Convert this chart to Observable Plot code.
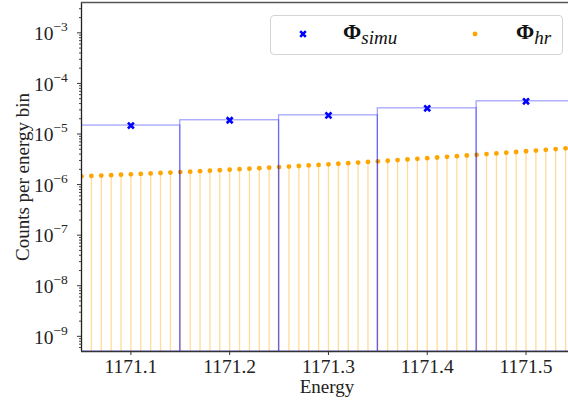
<!DOCTYPE html>
<html>
<head>
<meta charset="utf-8">
<script src="https://cdn.jsdelivr.net/npm/d3@7"></script>
<script src="https://cdn.jsdelivr.net/npm/@observablehq/plot@0.6"></script>
<style>
  html, body { margin: 0; padding: 0; background: #fff; }
  #wrap { position: relative; width: 568px; height: 403px; overflow: hidden; font-family: "Liberation Serif", "DejaVu Serif", serif; }
  #wrap svg text { font-family: "Liberation Serif", "DejaVu Serif", serif; }
  #legend { position: absolute; left: 270px; top: 15px; width: 291px; height: 38px; border: 1px solid #d4d4d4; border-radius: 4px; background: rgba(255,255,255,0.85); }
  .lg { position: absolute; white-space: nowrap; color: #111; font-family: "Liberation Serif", "DejaVu Serif", serif; }
  .phi { font-weight: bold; font-size: 22px; }
  .sub { font-style: italic; font-size: 19px; }
</style>
</head>
<body>
<div id="wrap"></div>
<script>
// ---- data ----
const energies = [
  1171.05, 1171.06, 1171.07, 1171.08, 1171.09, 1171.10, 1171.11, 1171.12, 1171.13, 1171.14,
  1171.15, 1171.16, 1171.17, 1171.18, 1171.19, 1171.20, 1171.21, 1171.22, 1171.23, 1171.24,
  1171.25, 1171.26, 1171.27, 1171.28, 1171.29, 1171.30, 1171.31, 1171.32, 1171.33, 1171.34,
  1171.35, 1171.36, 1171.37, 1171.38, 1171.39, 1171.40, 1171.41, 1171.42, 1171.43, 1171.44,
  1171.45, 1171.46, 1171.47, 1171.48, 1171.49, 1171.50, 1171.51, 1171.52, 1171.53, 1171.54
];
const phiHr = [
  1.456e-6, 1.482e-6, 1.510e-6, 1.537e-6, 1.567e-6, 1.597e-6, 1.628e-6, 1.661e-6, 1.695e-6, 1.730e-6,
  1.766e-6, 1.804e-6, 1.843e-6, 1.884e-6, 1.926e-6, 1.970e-6, 2.016e-6, 2.063e-6, 2.112e-6, 2.163e-6,
  2.216e-6, 2.272e-6, 2.329e-6, 2.389e-6, 2.451e-6, 2.516e-6, 2.583e-6, 2.653e-6, 2.726e-6, 2.802e-6,
  2.881e-6, 2.963e-6, 3.049e-6, 3.138e-6, 3.231e-6, 3.328e-6, 3.429e-6, 3.534e-6, 3.644e-6, 3.758e-6,
  3.878e-6, 4.002e-6, 4.132e-6, 4.267e-6, 4.409e-6, 4.557e-6, 4.711e-6, 4.873e-6, 5.041e-6, 5.218e-6
];
const binCenters = [1171.1, 1171.2, 1171.3, 1171.4, 1171.5];
const binLeft    = [1171.05, 1171.15, 1171.25, 1171.35, 1171.45];
const binRight   = [1171.15, 1171.25, 1171.35, 1171.45, 1171.55];
const phiSimu    = [1.47e-5, 1.87e-5, 2.34e-5, 3.22e-5, 4.43e-5];
const xTicks = [1171.1, 1171.2, 1171.3, 1171.4, 1171.5];
const xTickLabels = ["1171.1", "1171.2", "1171.3", "1171.4", "1171.5"];
const yExponents = [-9, -8, -7, -6, -5, -4, -3];

// ---- derived tables ----
const yMin = Math.pow(10, -9.30), yMax = Math.pow(10, -2.40);
const xMin = 1171.05, xMax = 1171.543;
const hr = energies.map((e, i) => ({e, v: phiHr[i]}));
const bins = binCenters.map((c, i) => ({c, x1: binLeft[i], x2: binRight[i], v: phiSimu[i]}));
const yMajor = yExponents.map(k => Math.pow(10, k));
const yMinor = [];
for (let k = -10; k <= -2; k++) for (let m = 2; m <= 9; m++) {
  const t = m * Math.pow(10, k);
  if (t >= yMin && t <= yMax) yMinor.push(t);
}

const FONT = '"Liberation Serif", "DejaVu Serif", serif';
const BLUE = "#0000ff", ORANGE = "#ffa500";

const chart = Plot.plot({
  width: 568, height: 403,
  marginLeft: 81, marginRight: 0, marginTop: 2, marginBottom: 52,
  style: {fontFamily: FONT, background: "white", overflow: "visible"},
  x: {domain: [xMin, xMax]},
  y: {type: "log", domain: [yMin, yMax]},
  marks: [
    // orange stems
    Plot.ruleX(hr, {x: "e", y1: yMin, y2: "v", stroke: ORANGE, strokeOpacity: 0.4, strokeWidth: 1.3, clip: true}),
    // orange dots
    Plot.dot(hr, {x: "e", y: "v", r: 2.4, fill: ORANGE, stroke: "none", clip: true}),
    // blue bin outlines
    Plot.rect(bins, {x1: "x1", x2: "x2", y1: yMin, y2: "v", fill: "none", stroke: BLUE, strokeOpacity: 0.36, strokeWidth: 1.3, clip: true}),
    // blue markers
    Plot.dot(bins, {x: "c", y: "v", symbol: "times", r: 2.8, stroke: BLUE, strokeWidth: 2.6}),
    // spines
    Plot.ruleX([xMin], {stroke: "#222", strokeWidth: 1.3}),
    Plot.ruleY([yMin], {stroke: "#333", strokeWidth: 1.3}),
    Plot.ruleY([yMax], {stroke: "#555", strokeWidth: 1.5}),
    // x axis
    Plot.axisX({ticks: xTicks, tickSize: 4, tickPadding: 4, tickFormat: (d, i) => xTickLabels[i], fontSize: 19.5, fontFamily: FONT, label: null, stroke: "#333", color: "#222"}),
    // y axis major and minor ticks
    Plot.axisY({ticks: yMajor, tickSize: 4, tickFormat: () => "", label: null, stroke: "#333"}),
    Plot.axisY({ticks: yMinor, tickSize: 2, tickFormat: () => "", label: null, stroke: "#444"}),
    // y tick labels 10^k
    Plot.text(yMajor, {y: d => d, frameAnchor: "left", text: () => "10", textAnchor: "end", lineAnchor: "middle", dx: -28, dy: 1, fontSize: 19.5, fontFamily: FONT, fill: "#222"}),
    Plot.text(yMajor, {y: d => d, frameAnchor: "left", text: d => "\u2212" + Math.round(-Math.log10(d)), textAnchor: "start", lineAnchor: "middle", dx: -28, dy: -6, fontSize: 13.5, fontFamily: FONT, fill: "#222"}),
    // axis titles
    Plot.text(["Energy"], {frameAnchor: "bottom", text: d => d, textAnchor: "middle", lineAnchor: "middle", dx: 2, dy: 35, fontSize: 19, fontFamily: FONT, fill: "#222"}),
    Plot.text(["Counts per energy bin"], {frameAnchor: "left", text: d => d, rotate: -90, textAnchor: "middle", lineAnchor: "middle", dx: -59, fontSize: 19, fontFamily: FONT, fill: "#222"})
  ]
});

const wrap = document.getElementById("wrap");
wrap.appendChild(chart);

// legend (inside the plotting area, upper right)
const legend = document.createElement("div");
legend.id = "legend";
legend.innerHTML = `
  <svg class="lg" style="left:26px;top:12px" width="12" height="12" viewBox="-6 -6 12 12">
    <path d="M-2.8,-2.8L2.8,2.8M-2.8,2.8L2.8,-2.8" stroke="${BLUE}" stroke-width="2.6"/>
  </svg>
  <div class="lg" style="left:72px;top:3px"><span class="phi">\u03A6</span><span class="sub" style="position:relative;top:5px">simu</span></div>
  <svg class="lg" style="left:199px;top:13px" width="10" height="10" viewBox="-5 -5 10 10">
    <circle r="2.4" fill="${ORANGE}"/>
  </svg>
  <div class="lg" style="left:245px;top:3px"><span class="phi">\u03A6</span><span class="sub" style="position:relative;top:5px">hr</span></div>
`;
wrap.appendChild(legend);
</script>
</body>
</html>
